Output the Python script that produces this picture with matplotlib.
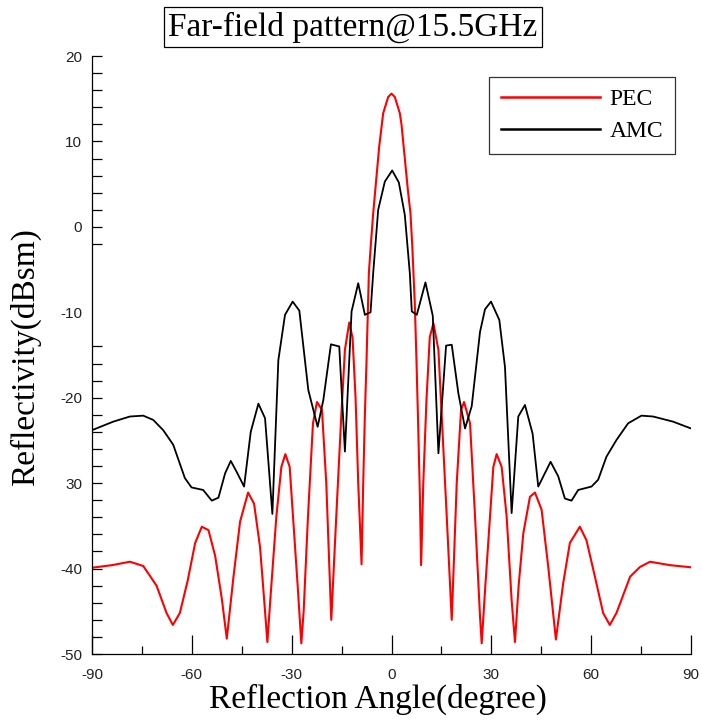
import matplotlib
matplotlib.use("Agg")
import matplotlib.pyplot as plt

# === Data ===
pec_angle = [-90, -84, -78.6, -74.6, -70.6, -67.6, -65.7, -63.6, -61.3, -59, -57, -55, -53, -51, -49.5,
             -47.5, -45.5, -43.1, -41.3, -39.5, -38.2, -37.3, -36.3, -34.6, -33.1, -31.9, -30.6, -29.6,
             -28.2, -27.1, -26.4, -25.1, -23.6, -22.4, -20.9, -19.6, -18.1, -16.6, -15.1, -14.0, -12.7,
             -11.7, -10.8, -10.0, -9.0, -8.5, -8.0, -7.5, -6.8, -6.25, -5.5, -4.6, -3.7, -2.5, -1.0, 0,
             1.0, 2.5, 3.0, 4.0, 5.0, 5.7, 6.25, 6.6, 7.0, 7.5, 8.0, 8.5, 8.9, 9.55, 10.5, 11.5, 12.6,
             14.1, 15.1, 16.6, 18.1, 19.6, 20.9, 21.8, 23.6, 25.1, 26.6, 27.1, 28.2, 29.6, 30.6, 31.6,
             33.1, 34.6, 36.1, 37.1, 38.2, 39.6, 41.6, 43.1, 45.1, 47.1, 49.4, 51.6, 53.6, 56.6, 58.6,
             61.1, 63.6, 65.6, 67.6, 71.7, 74.7, 77.7, 83.7, 90]
pec_rcs = [-39.9, -39.6, -39.2, -39.7, -42.0, -45.2, -46.6, -45.2, -41.5, -37.0, -35.1, -35.5, -38.5,
           -43.5, -48.2, -41.0, -34.5, -31.1, -32.4, -37.5, -44.0, -48.6, -43.0, -33.9, -28.1, -26.6,
           -28.1, -33.9, -42.0, -48.75, -45.0, -33.9, -23.0, -20.5, -21.4, -30.0, -46.0, -33.9, -22.2,
           -14.4, -11.2, -13.0, -20.0, -30.0, -39.5, -30.0, -22.0, -15.6, -5.4, -2.3, 1.6, 5.5, 9.4,
           13.3, 15.2, 15.6, 15.2, 13.3, 12.0, 8.0, 4.0, 1.6, -2.3, -5.4, -9.0, -15.6, -23.0, -31.0,
           -39.6, -30.0, -20.3, -12.9, -11.3, -14.4, -22.2, -33.9, -46.0, -30.0, -21.4, -20.5, -23.0,
           -33.9, -45.6, -48.75, -42.0, -33.9, -28.1, -26.6, -28.1, -33.9, -43.7, -48.6, -42.0, -35.9,
           -31.6, -31.1, -33.1, -39.8, -48.3, -41.7, -37.0, -35.1, -36.7, -40.9, -45.2, -46.6, -45.2,
           -40.95, -39.8, -39.2, -39.6, -39.85]

amc_angle = [-90, -83.6, -78.6, -74.6, -71.6, -68.6, -65.6, -62.1, -60.1, -56.6, -54.0, -52.0, -50.0,
             -48.3, -46.5, -44.3, -42.3, -40.0, -38.0, -35.8, -34.0, -32.0, -29.7, -27.7, -25.0, -22.2,
             -20.5, -18.2, -15.7, -14.0, -12.0, -10.0, -8.0, -6.3, -5.5, -4.0, -2.0, 0.2, 2.2, 4.0, 5.5,
             6.1, 7.6, 10.2, 12.4, 14.1, 16.4, 18.1, 20.1, 22.1, 24.1, 26.6, 28.1, 29.9, 32.4, 34.1,
             36.1, 38.1, 40.1, 42.4, 44.1, 47.8, 50.1, 52.1, 54.1, 56.1, 60.1, 62.1, 64.6, 67.6, 71.1,
             75.1, 78.6, 84.6, 90]
amc_rcs = [-23.8, -22.8, -22.2, -22.1, -22.6, -23.8, -25.5, -29.4, -30.5, -30.8, -32.05, -31.7, -28.85,
           -27.4, -28.7, -30.4, -24.0, -20.7, -22.4, -33.6, -15.6, -10.3, -8.75, -9.8, -19.1, -23.4,
           -20.3, -13.75, -14.0, -26.3, -9.9, -6.6, -10.3, -10.0, -5.4, 2.0, 5.3, 6.6, 5.2, 1.4, -5.4,
           -9.9, -10.3, -6.5, -10.4, -26.5, -13.9, -13.8, -19.5, -23.6, -21.0, -12.3, -9.65, -8.75,
           -10.9, -16.4, -33.5, -22.2, -20.85, -24.2, -30.4, -27.5, -29.2, -31.8, -32.05, -30.8, -30.4,
           -29.6, -26.9, -24.95, -23.0, -22.1, -22.2, -22.8, -23.6]

x_ticks = [-90, -60, -30, 0, 30, 60, 90]
x_tick_labels = ["-90", "-60", "-30", "0", "30", "60", "90"]
y_ticks = [20, 10, 0, -10, -20, -30, -40, -50]
y_tick_labels = ["20", "10", "0", "-10", "-20", "30", "-40", "-50"]

serif = "Liberation Serif"
sans = "Liberation Sans"

# === Figure ===
fig = plt.figure(figsize=(7.02, 7.21), dpi=100)
ax = fig.add_axes([92 / 702, 1 - 654 / 721, 599 / 702, 598 / 721])

ax.plot(pec_angle, pec_rcs, color="#ff0000", lw=1.5, label="PEC")
ax.plot(amc_angle, amc_rcs, color="black", lw=1.3, label="AMC")

ax.set_xlim(-90, 90)
ax.set_ylim(-50, 20)

for side in ["top", "right"]:
    ax.spines[side].set_visible(False)
for side in ["left", "bottom"]:
    ax.spines[side].set_linewidth(0.9)

ax.set_xticks(x_ticks)
ax.set_xticklabels(x_tick_labels, fontname=sans, fontsize=11, color="#222222")
ax.set_xticks([-75, -45, -15, 15, 45, 75], minor=True)
ax.set_yticks(y_ticks)
ax.set_yticklabels(y_tick_labels, fontname=sans, fontsize=11, color="#222222")
ax.set_yticks([18, 16, 14, 12, 8, 6, 4, 2, -2, -14, -16, -18, -22, -24, -26, -28,
               -32, -34, -36, -38, -42, -44, -46, -48], minor=True)

ax.tick_params(axis="x", which="major", direction="in", length=14, width=0.9, pad=10)
ax.tick_params(axis="x", which="minor", direction="in", length=6, width=0.9)
ax.tick_params(axis="y", which="both", direction="in", length=7.5, width=0.9, pad=7)
# no tick mark at -10 in the original
ax.yaxis.get_major_ticks()[3].tick1line.set_visible(False)

ax.set_xlabel("Reflection Angle(degree)", fontname=serif, fontsize=24)
ax.xaxis.set_label_coords(0.478, -0.05)
ax.xaxis.label.set_va("top")
ax.set_ylabel("Reflectivity(dBsm)", fontname=serif, fontsize=24)
ax.yaxis.set_label_coords(-0.085, 0.497)

leg = ax.legend(loc="upper right", bbox_to_anchor=(675 / 702, 1 - 77 / 721),
                bbox_transform=fig.transFigure, borderaxespad=0,
                prop={"family": serif, "size": 17}, frameon=True, fancybox=False,
                handlelength=4.2, handletextpad=0.4, labelspacing=0.45, borderpad=0.5)
leg.get_frame().set_edgecolor("black")
leg.get_frame().set_linewidth(0.9)
for line in leg.get_lines():
    line.set_linewidth(1.8)

fig.text(353 / 702, 1 - 27 / 721, "Far-field pattern@15.5GHz", fontname=serif, fontsize=24,
         ha="center", va="center",
         bbox=dict(boxstyle="square,pad=0.12", fc="white", ec="black", lw=0.9))

fig.savefig("out.png", dpi=100)
